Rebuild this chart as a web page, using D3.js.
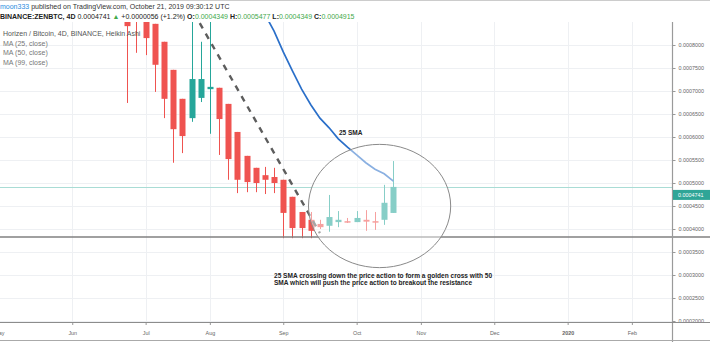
<!DOCTYPE html>
<html>
<head>
<meta charset="utf-8">
<script src="https://cdn.jsdelivr.net/npm/d3@7"></script>
<style>
  body { margin: 0; background: #fff; }
  text { font-family: "Liberation Sans", Arial, sans-serif; }
</style>
</head>
<body>
<script>
// Heikin Ashi 4D candles, ZEN/BTC
const candleDates = ['2019-06-26','2019-06-30','2019-07-04','2019-07-08','2019-07-12','2019-07-16',
  '2019-07-20','2019-07-24','2019-07-28','2019-08-01','2019-08-05','2019-08-09','2019-08-13',
  '2019-08-17','2019-08-21','2019-08-25','2019-08-29','2019-09-02','2019-09-06','2019-09-10',
  '2019-09-14','2019-09-18','2019-09-22','2019-09-26','2019-09-30','2019-10-04','2019-10-08',
  '2019-10-12','2019-10-16','2019-10-20'];
const opens  = [0.000887,0.000866,0.000858,0.000846,0.000807,0.000746,0.000683,0.000641,0.000685,0.000704,
  0.000707,0.000672,0.000611,0.000559,0.000533,0.000517,0.000513,0.000507,0.000470,0.000437,
  0.000420,0.000411,0.000407,0.000415,0.000417,0.000415,0.000420,0.000417,0.000420,0.0004349];
const highs  = [0.000898,0.000866,0.000858,0.000846,0.000807,0.000746,0.000683,0.000880,0.000807,0.000880,
  0.000707,0.000672,0.000611,0.000559,0.000533,0.000535,0.000533,0.000507,0.000470,0.000437,
  0.000437,0.000420,0.000474,0.000439,0.000424,0.000439,0.000441,0.000437,0.000496,0.0005477];
const lows   = [0.000674,0.000783,0.000778,0.000698,0.000641,0.000544,0.000565,0.000633,0.000676,0.000607,
  0.000561,0.000507,0.000478,0.000480,0.000480,0.000476,0.000478,0.000380,0.000380,0.000380,
  0.000380,0.000400,0.000394,0.000404,0.000413,0.000415,0.000396,0.000398,0.000409,0.0004349];
const closes = [0.000841,0.000853,0.000815,0.000757,0.000683,0.000617,0.000602,0.000726,0.000726,0.000709,
  0.000639,0.000552,0.000507,0.000502,0.000500,0.000507,0.000500,0.000435,0.000402,0.000402,
  0.000396,0.000404,0.000426,0.000420,0.000415,0.000424,0.000416,0.000415,0.000457,0.0004915];

// MA (25, close) - only the visible part
const maDates = ['2019-08-25','2019-08-29','2019-09-02','2019-09-06','2019-09-10','2019-09-14',
  '2019-09-18','2019-09-22','2019-09-26','2019-09-30','2019-10-04','2019-10-08','2019-10-12',
  '2019-10-16','2019-10-20'];
const ma25 = [0.000867,0.000830,0.000785,0.000744,0.000704,0.000670,0.000641,0.000620,0.000596,
  0.000578,0.000561,0.000544,0.000530,0.000520,0.000504];

const yTicks = [0.0002,0.00025,0.0003,0.00035,0.0004,0.00045,0.0005,0.00055,0.0006,0.00065,0.0007,0.00075,0.0008];
const monthTicks = ['2019-05-01','2019-06-02','2019-07-04','2019-08-01','2019-09-02','2019-10-04',
  '2019-11-01','2019-12-03','2020-01-04','2020-02-01'];
const monthLabels = ['May','Jun','Jul','Aug','Sep','Oct','Nov','Dec','2020','Feb'];

const lastPrice = 0.0004741;
const priceLine = 0.0004915;
const resistance = 0.0003826;
const trendDates = ['2019-07-25','2019-09-18'];
const trendPrices = [0.000870, 0.000391];
const circleDate = '2019-10-14', circlePrice = 0.00045, circleDays = 31, circleSpan = 0.000134;

(function() {
  'use strict';

  const parse = d3.utcParse('%Y-%m-%d');
  const candles = candleDates.map((d, i) => ({
    date: parse(d), o: opens[i], h: highs[i], l: lows[i], c: closes[i]
  }));

  const w = 710, h = 342;
  const axisX = 672, plotTop = 22, plotBottom = 322;

  const x = d3.scaleUtc()
    .domain([new Date(Date.UTC(2019, 4, 1, 12)), new Date(Date.UTC(2020, 1, 18, 12))])
    .range([0, axisX]);
  const y = d3.scaleLinear().domain([0.0002, 0.0008]).range([321, 45]);

  const svg = d3.select('body').append('svg').attr('width', w).attr('height', h);
  svg.append('defs').append('clipPath').attr('id', 'plot')
    .append('rect').attr('x', 0).attr('y', plotTop).attr('width', axisX).attr('height', plotBottom - plotTop);

  const plot = svg.append('g').attr('clip-path', 'url(#plot)');

  // grid
  plot.selectAll('.vgrid').data(monthTicks).enter().append('line')
    .attr('x1', d => Math.round(x(parse(d))) + 0.5).attr('x2', d => Math.round(x(parse(d))) + 0.5)
    .attr('y1', plotTop).attr('y2', plotBottom).attr('stroke', '#eef0f3');
  plot.selectAll('.hgrid').data(yTicks).enter().append('line')
    .attr('x1', 0).attr('x2', axisX)
    .attr('y1', d => Math.round(y(d)) + 0.5).attr('y2', d => Math.round(y(d)) + 0.5)
    .attr('stroke', '#eef0f3');

  // price line and horizontal level
  plot.append('line').attr('x1', 0).attr('x2', axisX)
    .attr('y1', Math.round(y(priceLine)) + 0.5).attr('y2', Math.round(y(priceLine)) + 0.5)
    .attr('stroke', '#a9dcd5');
  svg.append('line').attr('x1', 0).attr('x2', w)
    .attr('y1', y(resistance)).attr('y2', y(resistance))
    .attr('stroke', '#808080').attr('stroke-width', 1.6);

  // candles
  const bw = 6;
  const cg = plot.selectAll('.candle').data(candles).enter().append('g');
  const col = d => d.c >= d.o ? '#26a69a' : '#ef5350';
  cg.append('line')
    .attr('x1', d => Math.round(x(d.date)) + 0.5).attr('x2', d => Math.round(x(d.date)) + 0.5)
    .attr('y1', d => y(d.h)).attr('y2', d => y(d.l))
    .attr('stroke', col);
  cg.append('rect')
    .attr('x', d => Math.round(x(d.date)) - bw / 2 + 0.5)
    .attr('y', d => y(Math.max(d.o, d.c)))
    .attr('width', bw)
    .attr('height', d => Math.max(1.5, Math.abs(y(d.o) - y(d.c))))
    .attr('fill', col);

  // 25 SMA
  const maLine = d3.line().x(d => x(parse(d[0]))).y(d => y(d[1]));
  plot.append('path').datum(maDates.map((d, i) => [d, ma25[i]]))
    .attr('d', maLine).attr('fill', 'none').attr('stroke', '#2a6fc9').attr('stroke-width', 1.7);

  // trend line
  plot.append('line')
    .attr('x1', x(parse(trendDates[0]))).attr('y1', y(trendPrices[0]))
    .attr('x2', x(parse(trendDates[1]))).attr('y2', y(trendPrices[1]))
    .attr('stroke', '#5d5d5d').attr('stroke-width', 2.4).attr('stroke-dasharray', '6,6');

  // ellipse
  const cx = x(parse(circleDate)), cy = y(circlePrice);
  const rx = x(d3.utcDay.offset(parse(circleDate), circleDays)) - cx;
  const ry = y(circlePrice - circleSpan) - cy;
  svg.append('ellipse').attr('cx', cx).attr('cy', cy).attr('rx', rx).attr('ry', ry)
    .attr('fill', '#fff').attr('fill-opacity', 0.45)
    .attr('stroke', '#8a8a8a').attr('stroke-width', 1);

  // annotations
  svg.append('text').attr('x', 339).attr('y', 134.5)
    .attr('font-size', 6.5).attr('font-weight', 'bold').attr('fill', '#222').text('25 SMA');
  const note = svg.append('text').attr('font-size', 6.55).attr('font-weight', 'bold').attr('fill', '#222');
  note.append('tspan').attr('x', 274).attr('y', 278)
    .text('25 SMA crossing down the price action to form a golden cross with 50');
  note.append('tspan').attr('x', 274).attr('y', 285)
    .text('SMA which will push the price action to breakout the resistance');

  // legend
  const legend = ['Horizen / Bitcoin, 4D, BINANCE, Heikin Ashi', 'MA (25, close)', 'MA (50, close)', 'MA (99, close)'];
  svg.selectAll('.legend').data(legend).enter().append('text')
    .attr('x', 3).attr('y', (d, i) => [35.5, 45.5, 54.5, 64.5][i])
    .attr('font-size', 7).attr('fill', (d, i) => i ? '#777' : '#555').text(d => d);

  // right axis
  const yAxis = d3.axisRight(y).tickValues(yTicks).tickFormat(d3.format('.7f')).tickSize(3).tickPadding(3);
  const ya = svg.append('g').attr('transform', 'translate(' + (axisX + 0.5) + ',0)').call(yAxis);
  ya.select('.domain').remove();
  ya.selectAll('line').attr('stroke', '#999');
  ya.selectAll('text').attr('font-size', 5.4).attr('fill', '#666').attr('font-family', '"Liberation Sans", Arial, sans-serif');
  svg.append('line').attr('x1', axisX + 0.5).attr('x2', axisX + 0.5).attr('y1', plotTop).attr('y2', h)
    .attr('stroke', '#9a9a9a').attr('stroke-width', 1.2);

  // last price label
  svg.append('rect').attr('x', axisX + 1).attr('y', y(lastPrice) - 5).attr('width', w - axisX).attr('height', 10)
    .attr('fill', '#2fa597');
  svg.append('text').attr('x', axisX + 6).attr('y', y(lastPrice) + 2)
    .attr('font-size', 5.4).attr('fill', '#fff').text(d3.format('.7f')(lastPrice));

  // bottom axis
  const xAxis = d3.axisBottom(x).tickValues(monthTicks.map(parse))
    .tickFormat((d, i) => monthLabels[i]).tickSize(3).tickPadding(6);
  const xa = svg.append('g').attr('transform', 'translate(0,' + plotBottom + ')').call(xAxis);
  xa.select('.domain').remove();
  xa.selectAll('line').attr('stroke', '#999');
  xa.selectAll('text').attr('font-size', 5.4).attr('fill', '#666')
    .attr('font-family', '"Liberation Sans", Arial, sans-serif')
    .attr('font-weight', (d, i) => monthLabels[i] === '2020' ? 'bold' : 'normal');
  svg.append('line').attr('x1', 0).attr('x2', w).attr('y1', plotBottom + 0.5).attr('y2', plotBottom + 0.5)
    .attr('stroke', '#8c8c8c').attr('stroke-width', 1.2);
  svg.append('line').attr('x1', 0).attr('x2', w).attr('y1', 340.5).attr('y2', 340.5)
    .attr('stroke', '#aaa');

  // header
  svg.append('rect').attr('x', 0).attr('y', 0).attr('width', w).attr('height', plotTop).attr('fill', '#fff');
  svg.append('line').attr('x1', 0).attr('x2', w).attr('y1', 0.5).attr('y2', 0.5).attr('stroke', '#ccc');
  const h1 = svg.append('text').attr('x', 0).attr('y', 9).attr('font-size', 7);
  h1.append('tspan').attr('fill', '#2b8ce0').text('moon333');
  h1.append('tspan').attr('fill', '#333').text(' published on TradingView.com, October 21, 2019 09:30:12 UTC');

  const green = '#43a94b';
  const h2 = svg.append('text').attr('x', 0).attr('y', 19).attr('font-size', 7).attr('fill', '#222');
  h2.append('tspan').attr('font-weight', 'bold').text('BINANCE:ZENBTC, 4D');
  h2.append('tspan').text(' 0.0004741 ');
  h2.append('tspan').attr('fill', green).text('\u25B2');
  h2.append('tspan').text(' +0.0000056 (+1.2%) ');
  [['O:', '0.0004349'], ['H:', '0.0005477'], ['L:', '0.0004349'], ['C:', '0.0004915']].forEach((p, i) => {
    h2.append('tspan').attr('font-weight', 'bold').text((i ? ' ' : '') + p[0]);
    h2.append('tspan').attr('fill', green).text(p[1]);
  });
}());
</script>
</body>
</html>
